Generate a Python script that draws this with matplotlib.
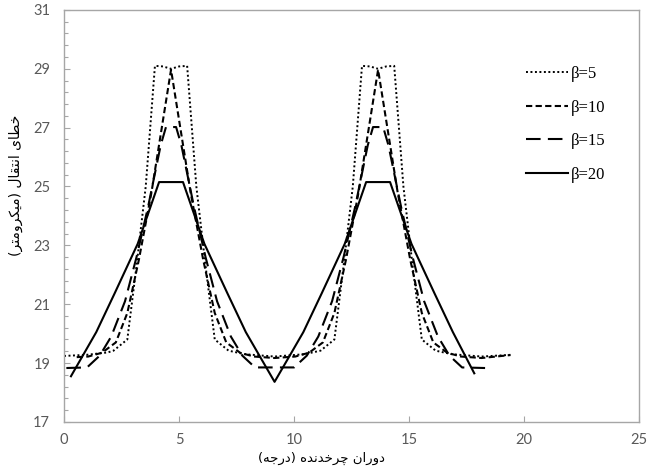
import numpy as np
import matplotlib.pyplot as plt

# values
x_b5 = [0.0, 1.0, 1.9, 2.15, 2.75, 3.15, 3.55, 3.95, 4.3, 4.65, 5.0, 5.35, 5.75, 6.15, 6.55,
        7.15, 7.85, 9.15, 10.45, 11.15, 11.75, 12.15, 12.55, 12.95, 13.3, 13.65, 14.0, 14.35,
        14.75, 15.15, 15.55, 16.15, 16.85, 18.15, 19.45]
y_b5 = [19.24, 19.28, 19.36, 19.42, 19.8, 22.3, 25.0, 29.1, 29.08, 29.0, 29.08, 29.1, 25.0,
        22.3, 19.8, 19.42, 19.3, 19.22, 19.3, 19.42, 19.8, 22.3, 25.0, 29.1, 29.08, 29.0, 29.08,
        29.1, 25.0, 22.3, 19.8, 19.42, 19.3, 19.22, 19.28]

x_b10 = [0.55, 1.05, 1.65, 2.25, 2.75, 3.25, 3.8, 4.65, 5.5, 6.05, 6.55, 7.05, 7.65, 8.25,
         9.15, 10.05, 10.65, 11.25, 11.75, 12.25, 12.8, 13.65, 14.5, 15.05, 15.55, 16.05,
         16.65, 17.25, 18.15, 19.4]
y_b10 = [19.2, 19.22, 19.35, 19.7, 20.7, 22.5, 24.8, 28.97, 24.8, 22.5, 20.7, 19.7, 19.35,
         19.22, 19.17, 19.22, 19.35, 19.7, 20.7, 22.5, 24.8, 28.97, 24.8, 22.5, 20.7, 19.7,
         19.35, 19.22, 19.17, 19.27]

x_b15 = [0.1, 1.0, 1.55, 2.05, 2.65, 3.15, 3.65, 4.2, 4.43, 4.87, 5.1, 5.65, 6.15, 6.65,
         7.25, 7.75, 8.3, 10.0, 10.55, 11.05, 11.65, 12.15, 12.65, 13.2, 13.43, 13.87, 14.1,
         14.65, 15.15, 15.65, 16.25, 16.75, 17.3, 18.3]
y_b15 = [18.83, 18.85, 19.25, 19.9, 21.1, 22.6, 24.3, 26.4, 27.02, 27.02, 26.4, 24.3, 22.6,
         21.1, 19.9, 19.25, 18.85, 18.85, 19.25, 19.9, 21.1, 22.6, 24.3, 26.4, 27.02, 27.02,
         26.4, 24.3, 22.6, 21.1, 19.9, 19.25, 18.85, 18.83]

x_b20 = [0.3, 1.4, 2.2, 3.2, 4.13, 5.17, 6.1, 7.1, 7.9, 9.15, 10.4, 11.2, 12.2, 13.13, 14.17,
         15.1, 16.1, 16.9, 17.83]
y_b20 = [18.55, 20.05, 21.37, 23.05, 25.15, 25.15, 23.05, 21.37, 20.05, 18.36, 20.05, 21.37,
         23.05, 25.15, 25.15, 23.05, 21.37, 20.05, 18.65]

labels = ['β=5', 'β=10', 'β=15', 'β=20']
x_ticks = [0, 5, 10, 15, 20, 25]
y_ticks = [17, 19, 21, 23, 25, 27, 29, 31]

# Persian labels written in visual order with presentation forms
xlabel = '(\ufeea\ufe9f\ufead\ufea9) \ufee9\ufeaa\ufee7\ufeaa\ufea7\ufeae\ufb7c \ufee5\ufe8d\ufead\ufeed\ufea9'
ylabel = '(\ufeae\ufe98\ufee3\ufeed\ufeae\ufb91\ufbff\ufee3) \ufedd\ufe8e\ufed8\ufe98\ufee7\ufe8d \ufbfc\ufe8e\ufec4\ufea7'

fig = plt.figure(figsize=(6.47, 4.74), dpi=100)
ax = fig.add_axes([0.099, 0.110, 0.889, 0.869])

ax.plot(x_b5, y_b5, color='black', lw=1.4, linestyle=(0, (1, 1.3)), label=labels[0])
ax.plot(x_b10, y_b10, color='black', lw=1.5, linestyle=(0, (3, 1.6)), label=labels[1])
ax.plot(x_b15, y_b15, color='black', lw=1.5, linestyle=(0, (7, 3.5)), label=labels[2])
ax.plot(x_b20, y_b20, color='black', lw=1.5, linestyle='-', label=labels[3])

ax.set_xlim(0, 25)
ax.set_ylim(17, 31)
ax.set_xticks(x_ticks)
ax.set_yticks(y_ticks)
ax.set_yticks(np.arange(17, 31.01, 0.4), minor=True)

for s in ax.spines.values():
    s.set_color('#a6a6a6')
    s.set_linewidth(1.0)

ax.tick_params(axis='both', which='both', direction='in', colors='#a6a6a6',
               labelcolor='#595959', labelsize=10.5, length=4, width=0.8)
ax.tick_params(axis='y', which='minor', length=3)
ax.tick_params(axis='x', pad=8)
ax.tick_params(axis='y', pad=10)
for t in ax.get_xticklabels() + ax.get_yticklabels():
    t.set_family('Lato')

ax.set_xlabel(xlabel, family='DejaVu Sans', fontsize=9.5)
ax.set_ylabel(ylabel, family='DejaVu Sans', fontsize=10)
ax.xaxis.set_label_coords(0.447, -0.072)
ax.yaxis.set_label_coords(-0.072, 0.575)

leg = ax.legend(loc='upper right', bbox_to_anchor=(0.968, 0.90), frameon=False,
                handlelength=2.5, handletextpad=0.2, labelspacing=1.05,
                prop={'family': 'Liberation Serif', 'size': 12})

fig.savefig('out.png', dpi=100)
